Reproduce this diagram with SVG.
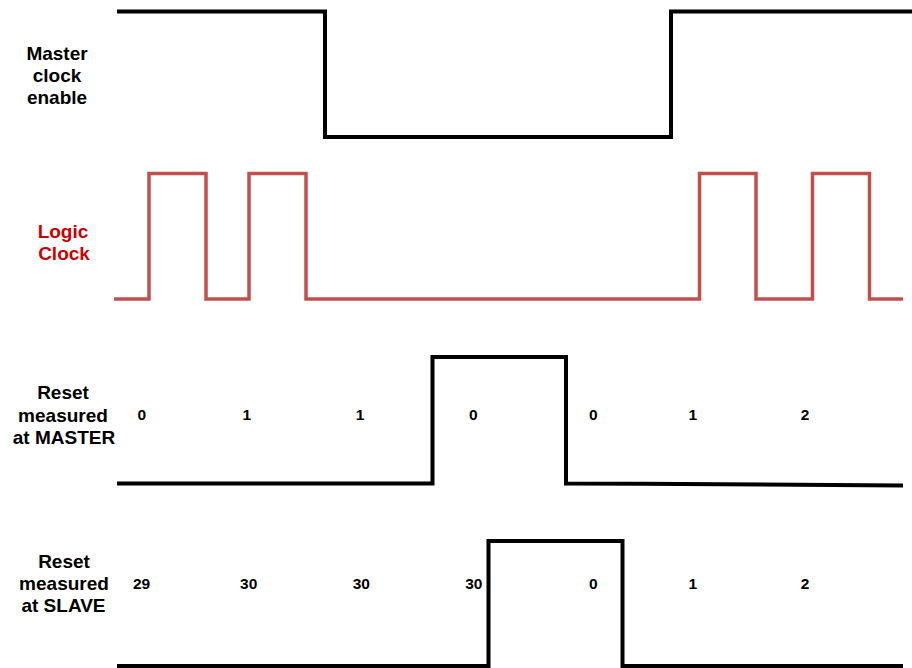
<svg xmlns="http://www.w3.org/2000/svg" width="912" height="668" viewBox="0 0 912 668">
<style>
.lbl{font-family:"Liberation Sans",Arial,sans-serif;font-weight:bold;font-size:19px;fill:#000;text-anchor:middle}
.red{fill:#cc0000}
.num{font-family:"Liberation Sans",Arial,sans-serif;font-weight:bold;font-size:15.5px;fill:#000;text-anchor:middle}
.wave{fill:none;stroke:#000;stroke-width:4;stroke-linejoin:miter}
.clk{fill:none;stroke:#c0504d;stroke-width:3.5;stroke-linejoin:miter}
</style>
<rect width="912" height="668" fill="#fff"/>
<g id="master-clock-enable">
<text class="lbl" x="57" y="60">Master</text>
<text class="lbl" x="57" y="82">clock</text>
<text class="lbl" x="57" y="104">enable</text>
<path class="wave" d="M117,11.5 H325 V137 H671 V11.5 H912"/>
</g>
<g id="logic-clock">
<text class="lbl red" x="63" y="238">Logic</text>
<text class="lbl red" x="64" y="260">Clock</text>
<path class="clk" d="M114,299 H149 V173.5 H206 V299 H249 V173.5 H306 V299 H699.5 V173.5 H756 V299 H812.5 V173.5 H869.5 V299 H903"/>
</g>
<g id="reset-master">
<text class="lbl" x="63" y="399">Reset</text>
<text class="lbl" x="63" y="421.5">measured</text>
<text class="lbl" x="64" y="444">at MASTER</text>
<path class="wave" d="M117,483.5 H432.5 V357 H566 V483.5 L640,483.7 L903,485.5"/>
<text class="num" x="141.7" y="420">0</text>
<text class="num" x="246.7" y="420">1</text>
<text class="num" x="360" y="420">1</text>
<text class="num" x="473.3" y="420">0</text>
<text class="num" x="593.3" y="420">0</text>
<text class="num" x="692.7" y="420">1</text>
<text class="num" x="805" y="420">2</text>
</g>
<g id="reset-slave">
<text class="lbl" x="64" y="567.5">Reset</text>
<text class="lbl" x="64" y="590">measured</text>
<text class="lbl" x="63.5" y="612">at SLAVE</text>
<path class="wave" d="M117,666 H488.5 V541 H622.5 V666 H903"/>
<text class="num" x="141.5" y="589">29</text>
<text class="num" x="248.7" y="589">30</text>
<text class="num" x="361.3" y="589">30</text>
<text class="num" x="473.8" y="589">30</text>
<text class="num" x="593.3" y="589">0</text>
<text class="num" x="692.7" y="589">1</text>
<text class="num" x="805" y="589">2</text>
</g>
<g id="connectors"></g>
</svg>
